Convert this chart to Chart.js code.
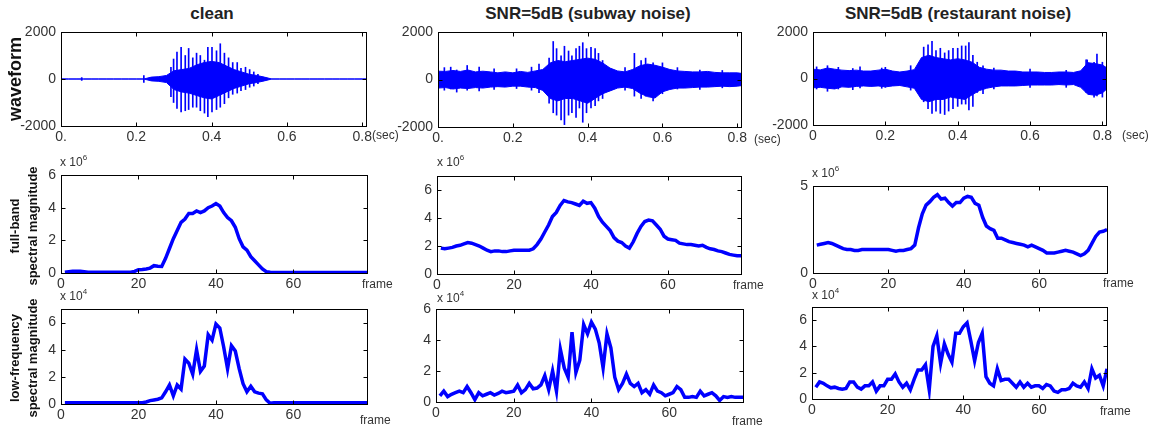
<!DOCTYPE html>
<html>
<head>
<meta charset="utf-8">
<script src="https://cdn.jsdelivr.net/npm/chart.js@4.4.1/dist/chart.umd.min.js"></script>
<style>
  body { margin: 0; background: #fff; }
  #fig { position: relative; width: 1160px; height: 430px; overflow: hidden; font-family: "Liberation Sans", Arial, sans-serif; }
  #fig canvas { position: absolute; }
  .txt { position: absolute; white-space: nowrap; color: #333; z-index: 2; }
  .title { font-size: 17px; font-weight: bold; color: #222; transform: translateX(-50%); }
  .ylab { position: absolute; font-weight: bold; color: #111; text-align: center; white-space: nowrap;
          transform: translate(-50%, -50%) rotate(-90deg); z-index: 2; }
  .small { font-size: 12px; }
  .sup { font-size: 8px; position: relative; top: -6px; }
</style>
</head>
<body>
<div id="fig">
  <div class="txt title" style="left:212px; top:4px">clean</div>
  <div class="txt title" style="left:588px; top:4px">SNR=5dB (subway noise)</div>
  <div class="txt title" style="left:958px; top:4px">SNR=5dB (restaurant noise)</div>

  <div class="ylab" style="left:15px; top:79px; font-size:18px">waveform</div>
  <div class="ylab" style="left:24px; top:226px; font-size:13px; line-height:18px">full-band<br>spectral magnitude</div>
  <div class="ylab" style="left:24px; top:358px; font-size:13px; line-height:18px">low-frequency<br>spectral magnitude</div>

  <div class="txt small" style="left:372px; top:128px">(sec)</div>
  <div class="txt small" style="left:754px; top:132px">(sec)</div>
  <div class="txt small" style="left:1122px; top:128px">(sec)</div>

  <div class="txt small" style="left:60px; top:155px">x 10<span class="sup">6</span></div>
  <div class="txt small" style="left:437px; top:155px">x 10<span class="sup">6</span></div>
  <div class="txt small" style="left:812px; top:166px">x 10<span class="sup">6</span></div>

  <div class="txt small" style="left:60px; top:289px">x 10<span class="sup">4</span></div>
  <div class="txt small" style="left:437px; top:291px">x 10<span class="sup">4</span></div>
  <div class="txt small" style="left:812px; top:288px">x 10<span class="sup">4</span></div>

  <div class="txt small" style="left:362px; top:277px">frame</div>
  <div class="txt small" style="left:733px; top:278px">frame</div>
  <div class="txt small" style="left:1103px; top:276px">frame</div>
  <div class="txt small" style="left:360px; top:413px">frame</div>
  <div class="txt small" style="left:732px; top:414px">frame</div>
  <div class="txt small" style="left:1100px; top:404px">frame</div>
</div>

<script>
// waveform envelopes, sampled every 0.02 s (amplitude)
const waveTimes = [0, 0.02, 0.04, 0.06, 0.08, 0.10, 0.12, 0.14, 0.16, 0.18, 0.20, 0.22, 0.24, 0.26,
  0.28, 0.30, 0.32, 0.34, 0.36, 0.38, 0.40, 0.42, 0.44, 0.46, 0.48, 0.50, 0.52, 0.54, 0.56, 0.58,
  0.60, 0.62, 0.64, 0.66, 0.68, 0.70, 0.72, 0.74, 0.76, 0.78, 0.80, 0.81];

const cleanHi = [0, 0, 0, 0, 0, 0, 0, 0, 0, 0, 0, 0, 80, 100, 150, 350, 400, 450, 600, 700, 750,
  700, 550, 400, 300, 200, 150, 80, 0, 0, 0, 0, 0, 0, 0, 0, 0, 0, 0, 0, 0, 0];
const cleanLo = [0, 0, 0, 0, 0, 0, 0, 0, 0, 0, 0, 0, -80, -100, -150, -450, -550, -600, -700, -800, -850,
  -700, -550, -400, -300, -200, -150, -80, 0, 0, 0, 0, 0, 0, 0, 0, 0, 0, 0, 0, 0, 0];

const subwayHi = [350, 340, 380, 340, 400, 320, 350, 320, 280, 320, 280, 340, 300, 360, 420, 700, 800,
  750, 800, 850, 900, 850, 700, 480, 360, 320, 420, 580, 650, 600, 520, 420, 360, 340, 320, 320, 340,
  300, 280, 280, 280, 260];
const subwayLo = [-360, -340, -400, -360, -380, -340, -360, -320, -300, -320, -280, -280, -320, -340,
  -460, -800, -900, -800, -800, -900, -1000, -800, -600, -480, -360, -320, -380, -580, -720, -780, -520,
  -420, -360, -360, -340, -320, -320, -300, -280, -300, -280, -260];

const restHi = [400, 370, 450, 400, 360, 340, 360, 320, 320, 360, 400, 320, 280, 320, 380, 900, 1000,
  900, 850, 800, 850, 800, 700, 480, 400, 360, 360, 320, 320, 280, 280, 280, 260, 260, 280, 280, 260,
  330, 680, 640, 580, 480];
const restLo = [-400, -380, -420, -450, -360, -380, -340, -320, -340, -320, -360, -320, -300, -360,
  -420, -900, -1000, -900, -900, -800, -850, -900, -700, -520, -420, -360, -320, -320, -320, -300, -280,
  -280, -280, -280, -260, -280, -260, -380, -680, -720, -620, -480];

// individual pulses / noise peaks that stick out of the envelope
const cleanPulseT = [0.055, 0.22, 0.292, 0.299, 0.308, 0.319, 0.33, 0.339, 0.35, 0.36, 0.37, 0.381,
  0.39, 0.401, 0.413, 0.423, 0.434, 0.445, 0.456, 0.468, 0.478, 0.49, 0.501, 0.512, 0.523];
const cleanPulseHi = [60, 150, 500, 850, 1150, 1350, 1000, 1300, 900, 1100, 1000, 800, 1350, 1350,
  1200, 1500, 1100, 900, 700, 700, 450, 500, 400, 300, 200];
const cleanPulseLo = [-60, -150, -750, -1000, -1250, -1400, -1350, -1300, -1200, -1200, -1350, -1450,
  -1600, -1400, -1300, -1200, -1050, -800, -650, -600, -500, -450, -350, -300, -200];

const subwayPulseT = [0.017, 0.034, 0.05, 0.078, 0.11, 0.15, 0.21, 0.25, 0.27, 0.297, 0.308, 0.317,
  0.329, 0.338, 0.349, 0.358, 0.369, 0.378, 0.387, 0.397, 0.409, 0.42, 0.429, 0.44, 0.5, 0.525, 0.543,
  0.555, 0.575, 0.6, 0.64, 0.7, 0.76];
const subwayPulseHi = [500, 520, 400, 590, 520, 450, 450, 520, 650, 900, 1600, 1300, 1000, 1400, 1200,
  1000, 1300, 1400, 1550, 1300, 1350, 1300, 1100, 800, 500, 1100, 800, 900, 700, 700, 500, 400, 380];
const subwayPulseLo = [-450, -400, -530, -450, -480, -420, -380, -450, -550, -1000, -1400, -1500,
  -1700, -1900, -1500, -1400, -1600, -1200, -1800, -1400, -1200, -1100, -900, -800, -450, -700, -800,
  -700, -900, -600, -400, -420, -350];

const restPulseT = [0.01, 0.04, 0.07, 0.11, 0.13, 0.19, 0.2, 0.27, 0.306, 0.318, 0.329, 0.34, 0.352,
  0.364, 0.375, 0.387, 0.4, 0.411, 0.422, 0.431, 0.442, 0.454, 0.47, 0.5, 0.6, 0.7, 0.755, 0.758,
  0.777, 0.785, 0.8];
const restPulseHi = [500, 550, 480, 430, 500, 450, 480, 550, 1350, 1450, 1600, 1200, 1300, 1100, 1200,
  1300, 1300, 1400, 1400, 1550, 1000, 700, 550, 450, 400, 350, 800, 800, 700, 1050, 700];
const restPulseLo = [-450, -550, -450, -480, -400, -420, -380, -500, -1000, -1300, -1500, -1400, -1500,
  -1550, -1400, -1300, -1200, -1100, -1100, -1350, -1200, -600, -650, -450, -380, -380, -600, -500,
  -800, -750, -800];

// full-band spectral magnitude per frame (x 10^6)
const fullClean = [0.05, 0.08, 0.1, 0.1, 0.1, 0.08, 0.05, 0.04, 0.04, 0.04, 0.04, 0.04, 0.04, 0.04,
  0.04, 0.04, 0.04, 0.05, 0.1, 0.2, 0.22, 0.25, 0.3, 0.45, 0.42, 0.4, 0.9, 1.5, 2.1, 2.6, 3.1, 3.3,
  3.65, 3.65, 3.8, 3.7, 3.8, 4.0, 4.1, 4.25, 4.1, 3.7, 3.4, 3.2, 2.8, 2.1, 1.6, 1.4, 1.0, 0.75, 0.5,
  0.25, 0.08, 0.04, 0.03, 0.03, 0.03, 0.03, 0.03, 0.03, 0.03, 0.03, 0.03, 0.03, 0.03, 0.03, 0.03,
  0.03, 0.03, 0.03, 0.03, 0.03, 0.03, 0.03, 0.03, 0.03, 0.03, 0.03, 0.03];
const fullSubway = [1.85, 1.8, 1.85, 1.9, 2.0, 2.05, 2.15, 2.25, 2.2, 2.1, 2.0, 1.85, 1.7, 1.6, 1.65,
  1.65, 1.6, 1.6, 1.65, 1.7, 1.7, 1.7, 1.7, 1.7, 1.8, 2.1, 2.5, 3.0, 3.5, 4.1, 4.4, 4.9, 5.25, 5.15,
  5.1, 5.0, 4.9, 5.2, 5.05, 5.1, 4.7, 4.1, 3.7, 3.4, 3.1, 2.6, 2.35, 2.25, 2.0, 1.85, 2.3, 2.9, 3.4,
  3.75, 3.85, 3.8, 3.5, 3.2, 2.7, 2.5, 2.45, 2.4, 2.2, 2.15, 2.1, 2.1, 2.05, 2.0, 2.05, 1.9, 1.8,
  1.75, 1.65, 1.6, 1.5, 1.4, 1.35, 1.3, 1.3];
const fullRest = [1.6, 1.65, 1.7, 1.75, 1.7, 1.6, 1.5, 1.4, 1.35, 1.35, 1.3, 1.3, 1.35, 1.35, 1.35,
  1.35, 1.35, 1.35, 1.35, 1.35, 1.3, 1.25, 1.3, 1.3, 1.35, 1.4, 1.6, 2.6, 3.4, 3.9, 4.1, 4.35, 4.5,
  4.25, 4.3, 4.05, 3.85, 4.05, 4.05, 4.3, 4.4, 4.35, 4.0, 3.9, 3.2, 2.7, 2.55, 2.45, 2.0, 2.0, 1.9,
  1.8, 1.75, 1.7, 1.65, 1.6, 1.5, 1.6, 1.5, 1.4, 1.3, 1.15, 1.15, 1.15, 1.2, 1.25, 1.3, 1.25, 1.2,
  1.1, 1.0, 1.1, 1.3, 1.7, 2.1, 2.35, 2.4, 2.5];

// low-frequency spectral magnitude per frame (x 10^4)
const lowClean = [0.1, 0.1, 0.1, 0.1, 0.1, 0.1, 0.1, 0.1, 0.1, 0.1, 0.1, 0.1, 0.1, 0.1, 0.1, 0.1,
  0.1, 0.1, 0.1, 0.1, 0.1, 0.15, 0.25, 0.3, 0.35, 0.45, 0.9, 1.4, 0.6, 1.4, 1.1, 3.3, 3.0, 2.2, 4.0,
  2.4, 2.8, 5.1, 4.7, 5.9, 5.6, 4.2, 2.6, 4.3, 3.9, 2.6, 1.5, 0.9, 1.3, 0.9, 0.8, 0.75, 0.3, 0.05,
  0.1, 0.1, 0.1, 0.1, 0.1, 0.1, 0.1, 0.1, 0.1, 0.1, 0.1, 0.1, 0.1, 0.1, 0.1, 0.1, 0.1, 0.1, 0.1, 0.1,
  0.1, 0.1, 0.1, 0.1, 0.1];
const lowSubway = [0.4, 0.7, 0.35, 0.5, 0.6, 0.7, 0.6, 1.0, 0.6, 0.15, 0.6, 0.4, 0.5, 0.6, 0.45, 0.55,
  0.7, 0.6, 0.65, 0.7, 1.1, 0.6, 0.8, 1.2, 0.85, 0.9, 1.1, 1.7, 0.8, 2.0, 0.7, 3.4, 2.2, 1.6, 4.5, 1.9,
  2.7, 5.0, 4.4, 5.15, 4.7, 3.8, 2.2, 4.4, 3.5, 1.6, 0.8, 1.2, 1.8, 1.2, 1.0, 1.2, 0.6, 0.8, 0.5, 1.1,
  0.7, 0.6, 0.4, 0.5, 0.6, 1.0, 0.8, 0.3, 0.3, 0.35, 0.3, 0.7, 0.4, 0.5, 0.6, 0.4, 0.1, 0.35, 0.3,
  0.35, 0.3, 0.3, 0.3];
const lowRest = [0.9, 1.3, 1.2, 1.0, 0.85, 0.9, 0.8, 0.75, 0.8, 1.3, 1.3, 0.9, 0.75, 1.0, 1.0, 1.3,
  0.6, 1.0, 1.0, 1.5, 1.5, 1.9, 1.3, 0.9, 1.2, 0.7, 1.5, 2.2, 2.2, 2.6, 0.7, 4.0, 4.8, 2.7, 4.2, 3.4,
  2.8, 5.0, 5.0, 5.5, 5.8, 4.4, 2.9, 4.3, 5.0, 1.7, 1.2, 1.0, 2.3, 1.4, 1.5, 1.5, 1.2, 0.9, 1.3, 0.9,
  1.2, 0.9, 1.0, 1.0, 0.8, 1.1, 1.0, 0.6, 0.5, 0.7, 0.7, 0.8, 1.2, 1.0, 0.9, 1.3, 0.8, 2.3, 1.6, 1.8,
  1.0, 2.3];

// axis ticks
const waveXTicks = [0, 0.2, 0.4, 0.6, 0.8];
const waveXLabels = ['0.', '0.2', '0.4', '0.6', '0.8'];
const waveXLabels3 = ['0', '0.2', '0.4', '0.6', '0.8'];
const waveYTicks = [-2000, 0, 2000];
const waveYLabels = ['-2000', '0', '2000'];
const frameTicks = [0, 20, 40, 60];
const frameLabels = ['0', '20', '40', '60'];
const magTicks = [0, 2, 4, 6];
const magLabels = ['0', '2', '4', '6'];

const BLUE = '#0000ff';
const tickFont = { family: 'Liberation Sans, Arial, sans-serif', size: 14 };
const PAD_L = 60, PAD_T = 8, PAD_R = 12, PAD_B = 22;

// MATLAB style box with ticks pointing inwards
const boxPlugin = {
  id: 'matlabBox',
  afterDraw(chart) {
    const { ctx, chartArea: a, scales } = chart;
    const L = Math.round(a.left) + 0.5, R = Math.round(a.right) + 0.5;
    const T = Math.round(a.top) + 0.5, B = Math.round(a.bottom) + 0.5;
    ctx.save();
    ctx.strokeStyle = '#000';
    ctx.lineWidth = 1;
    ctx.strokeRect(L, T, R - L, B - T);
    ctx.beginPath();
    scales.x.ticks.forEach(t => {
      const px = Math.round(scales.x.getPixelForValue(t.value)) + 0.5;
      ctx.moveTo(px, B); ctx.lineTo(px, B - 4);
      ctx.moveTo(px, T); ctx.lineTo(px, T + 4);
    });
    scales.y.ticks.forEach(t => {
      const py = Math.round(scales.y.getPixelForValue(t.value)) + 0.5;
      ctx.moveTo(L, py); ctx.lineTo(L + 4, py);
      ctx.moveTo(R, py); ctx.lineTo(R - 4, py);
    });
    ctx.stroke();
    ctx.restore();
  }
};

function axis(a, horiz) {
  return {
    type: 'linear',
    min: a.min,
    max: a.max,
    offset: false,
    grid: { display: false, drawTicks: false },
    border: { display: false },
    afterBuildTicks: s => { s.ticks = a.ticks.map(v => ({ value: v })); },
    afterFit: s => {
      if (horiz) { s.height = PAD_B; s.paddingLeft = 0; s.paddingRight = 0; }
      else { s.width = PAD_L; s.paddingTop = 0; s.paddingBottom = 0; }
    },
    ticks: {
      padding: horiz ? 3 : 5,
      color: '#333',
      font: tickFont,
      autoSkip: false,
      maxRotation: 0,
      callback: (v, i) => a.labels[i]
    }
  };
}

function makePlot(box, x, y, datasets) {
  const cv = document.createElement('canvas');
  cv.width = box[2] - box[0] + PAD_L + PAD_R;
  cv.height = box[3] - box[1] + PAD_T + PAD_B;
  cv.style.left = (box[0] - PAD_L) + 'px';
  cv.style.top = (box[1] - PAD_T) + 'px';
  document.getElementById('fig').appendChild(cv);

  new Chart(cv, {
    type: 'line',
    data: { datasets: datasets },
    options: {
      responsive: false,
      animation: false,
      events: [],
      layout: { padding: { left: 0, top: PAD_T, right: PAD_R, bottom: 0 } },
      elements: { point: { radius: 0 }, line: { tension: 0 } },
      plugins: { legend: { display: false }, tooltip: { enabled: false } },
      scales: { x: axis(x, true), y: axis(y, false) }
    },
    plugins: [boxPlugin]
  });
}

function waveSets(hi, lo, pt, phi, plo) {
  return [
    { data: waveTimes.map((t, i) => ({ x: t, y: hi[i] })), borderColor: BLUE, borderWidth: 1,
      backgroundColor: BLUE, fill: '+1' },
    { data: waveTimes.map((t, i) => ({ x: t, y: lo[i] })), borderColor: BLUE, borderWidth: 1, fill: false },
    { type: 'bar', data: pt.map((t, i) => ({ x: t, y: [plo[i], phi[i]] })), backgroundColor: BLUE,
      borderWidth: 0, barThickness: 1, grouped: false }
  ];
}

function specSet(vals) {
  return [{
    data: vals.map((v, i) => ({ x: i + 1, y: v })),
    borderColor: BLUE,
    borderWidth: 3.5,
    fill: false
  }];
}

const waveY = { min: -2000, max: 2000, ticks: waveYTicks, labels: waveYLabels };
const waveX = { min: 0, max: 0.81, ticks: waveXTicks, labels: waveXLabels };
const waveX3 = { min: 0, max: 0.81, ticks: waveXTicks, labels: waveXLabels3 };
const frX = { min: 0, max: 79, ticks: frameTicks, labels: frameLabels };
const frX3 = { min: 0, max: 78, ticks: frameTicks, labels: frameLabels };

// row 1: waveforms
makePlot([61, 32, 366, 126], waveX, waveY, waveSets(cleanHi, cleanLo, cleanPulseT, cleanPulseHi, cleanPulseLo));
makePlot([438, 32, 741, 127], waveX, waveY, waveSets(subwayHi, subwayLo, subwayPulseT, subwayPulseHi, subwayPulseLo));
makePlot([813, 32, 1106, 125], waveX3, waveY, waveSets(restHi, restLo, restPulseT, restPulseHi, restPulseLo));

// row 2: full-band spectral magnitude
makePlot([61, 175, 367, 273], frX, { min: 0, max: 6, ticks: magTicks, labels: magLabels }, specSet(fullClean));
makePlot([437, 176, 741, 274], frX, { min: 0, max: 7, ticks: magTicks, labels: magLabels }, specSet(fullSubway));
makePlot([813, 186, 1107, 273], frX3, { min: 0, max: 5, ticks: [0, 5], labels: ['0', '5'] }, specSet(fullRest));

// row 3: low-frequency spectral magnitude
makePlot([61, 309, 367, 404], frX, { min: 0, max: 7, ticks: magTicks, labels: magLabels }, specSet(lowClean));
makePlot([436, 309, 743, 402], frX, { min: 0, max: 6, ticks: magTicks, labels: magLabels }, specSet(lowSubway));
makePlot([812, 307, 1107, 399], frX3, { min: 0, max: 7, ticks: magTicks, labels: magLabels }, specSet(lowRest));
</script>
</body>
</html>
